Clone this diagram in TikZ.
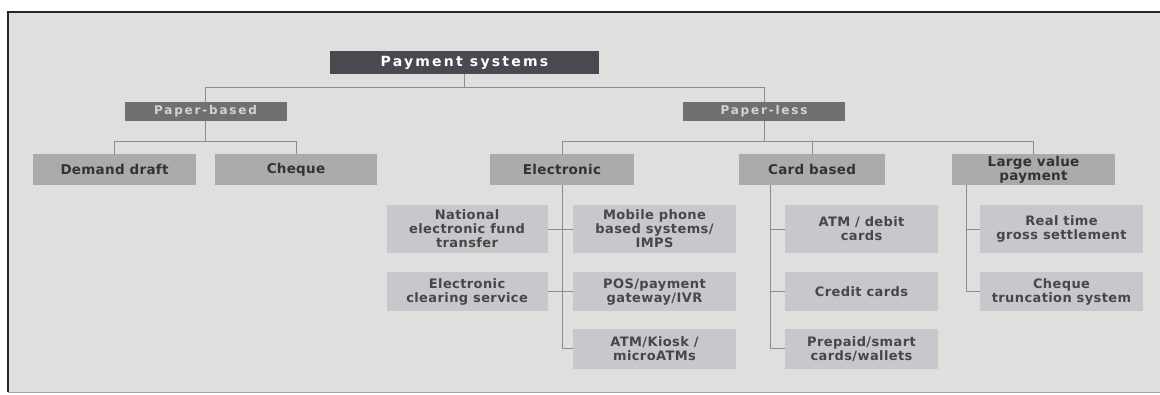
\documentclass[tikz,border=0pt]{standalone}
\usepackage{fontspec}
\setmainfont{DejaVu Sans}
\usetikzlibrary{positioning}
\definecolor{canvas}{HTML}{DEE0DD}
\definecolor{rootgray}{HTML}{49494F}
\definecolor{groupgray}{HTML}{6E716E}
\definecolor{grouptext}{HTML}{D3D5D3}
\definecolor{catgray}{HTML}{A9ABAC}
\definecolor{leafgray}{HTML}{C6C8CC}
\definecolor{inkgray}{HTML}{333333}
\definecolor{wire}{HTML}{8B8D89}
\newcommand\rootfont{\fontsize{14}{15}\selectfont\bfseries\addfontfeature{LetterSpace=16}}
\newcommand\groupfont{\fontsize{12}{13}\selectfont\bfseries\addfontfeature{LetterSpace=15}}
\newcommand\catfont{\fontsize{13.5}{14}\selectfont\bfseries\addfontfeature{LetterSpace=2}}
\newcommand\leaffont{\fontsize{13}{14}\selectfont\bfseries\addfontfeature{LetterSpace=3}}
\tikzset{
  rootbox/.style  = {rectangle, fill=rootgray, text=white, font=\rootfont,
                     inner sep=0pt, minimum width=269pt, minimum height=23pt},
  groupbox/.style = {rectangle, fill=groupgray, text=grouptext, font=\groupfont,
                     inner sep=0pt, minimum width=162pt, minimum height=19pt},
  catbox/.style   = {rectangle, fill=catgray, text=inkgray, font=\catfont, align=center,
                     inner sep=0pt, minimum height=31pt},
  leaf/.style     = {rectangle, fill=leafgray, text=inkgray!90, font=\leaffont, align=center,
                     inner sep=0pt, minimum width=163pt},
  link/.style     = {draw=wire, line width=1pt},
}
\begin{document}
\begin{tikzpicture}[x=1pt, y=-1pt]
  \useasboundingbox (0,0) rectangle (1160,394);
  \fill[canvas] (8,12) rectangle (1160,392);
  \draw[black!85, line width=2pt] (8,392) -- (8,12) -- (1160,12);
  \draw[black!35, line width=1pt] (8,392) -- (1160,392);

  \node[rootbox] (root) at (464.5,62.5) {Payment systems};
  \node[groupbox] (pbased) at (205.5,111.5) {Paper-based};
  \node[groupbox] (pless) at (764,111.5) {Paper-less};

  \node[catbox, minimum width=163pt] (draft) at (114.5,169.5) {Demand draft};
  \node[catbox, minimum width=162pt] (cheque) at (296,169.5) {Cheque};
  \node[catbox, minimum width=144pt] (elec) at (562,169.5) {Electronic};
  \node[catbox, minimum width=146pt] (card) at (812,169.5) {Card based};
  \node[catbox, minimum width=163pt] (large) at (1033.5,169.5) {Large value\\payment};

  \node[leaf, minimum height=48pt] (mobile) at (654.5,229) {Mobile phone\\based systems/\\IMPS};
  \node[leaf, minimum height=39pt, below=19pt of mobile] (pos) {POS/payment\\gateway/IVR};
  \node[leaf, minimum height=40pt, below=17pt of pos] (kiosk) {ATM/Kiosk /\\microATMs};
  \node[leaf, minimum width=161pt, minimum height=48pt, left=25pt of mobile] (neft) {National\\electronic fund\\transfer};
  \node[leaf, minimum width=161pt, minimum height=39pt, left=25pt of pos] (ecs) {Electronic\\clearing service};

  \node[leaf, minimum width=153pt, minimum height=48pt] (debit) at (861.5,229) {ATM / debit\\cards};
  \node[leaf, minimum width=153pt, minimum height=39pt, below=19pt of debit] (credit) {Credit cards};
  \node[leaf, minimum width=153pt, minimum height=40pt, below=17pt of credit] (prepaid) {Prepaid/smart\\cards/wallets};

  \node[leaf, minimum height=48pt] (rtgs) at (1061.5,229) {Real time\\gross settlement};
  \node[leaf, minimum height=39pt, below=19pt of rtgs] (cts) {Cheque\\truncation system};

  % top buses
  \draw[link] (pbased.north) -- ++(0,-14) coordinate (topbus) -| (pless.north);
  \draw[link] (root.south) -- (root.south |- topbus);
  \draw[link] (draft.north) -- ++(0,-12) coordinate (paperbus) -| (cheque.north);
  \draw[link] (pbased.south) -- (pbased.south |- paperbus);
  \draw[link] (elec.north) -- ++(0,-12) coordinate (lessbus) -| (large.north);
  \draw[link] (pless.south) -- (pless.south |- lessbus);
  \draw[link] (card.north) -- (card.north |- lessbus);

  % spines
  \draw[link] (elec.south) |- (kiosk.west);
  \draw[link] (neft.east) -- (mobile.west);
  \draw[link] (ecs.east) -- (pos.west);
  \coordinate (cardspine) at ([xshift=32pt]card.south west);
  \draw[link] (cardspine) |- (prepaid.west);
  \draw[link] (debit.west) -- (debit.west -| cardspine);
  \draw[link] (credit.west) -- (credit.west -| cardspine);
  \coordinate (largespine) at ([xshift=15pt]large.south west);
  \draw[link] (largespine) |- (cts.west);
  \draw[link] (rtgs.west) -- (rtgs.west -| largespine);
\end{tikzpicture}
\end{document}
